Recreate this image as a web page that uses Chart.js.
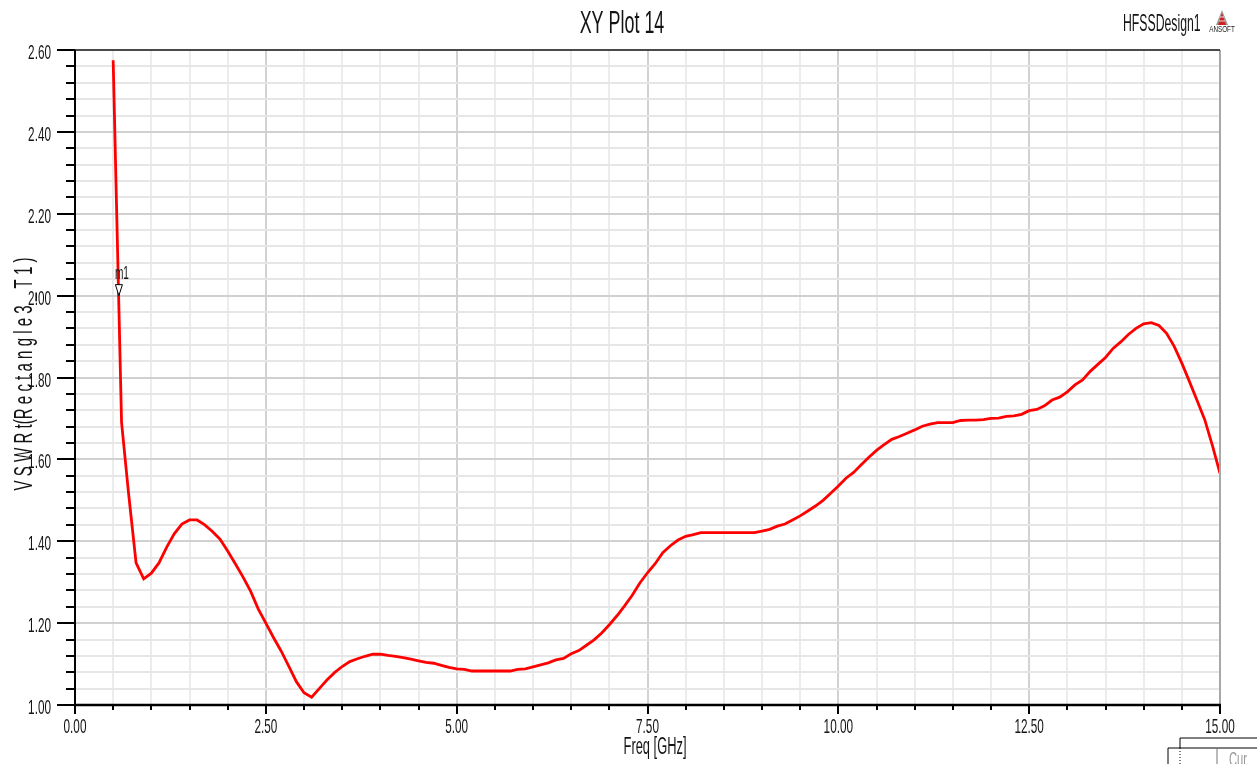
<!DOCTYPE html>
<html>
<head>
<meta charset="utf-8">
<title>XY Plot 14</title>
<script src="https://cdn.jsdelivr.net/npm/chart.js@4.4.1/dist/chart.umd.min.js"></script>
<style>
  html, body { margin: 0; padding: 0; background: #ffffff; }
  #wrap { width: 1257px; height: 764px; }
  canvas { display: block; }
</style>
</head>
<body>
<div id="wrap"><canvas id="plot" width="1257" height="764"></canvas></div>
<script>
// Frequency sweep (GHz) and VSWR of port Rectangle3_T1
const freqGHz = [
  0.5, 0.61, 0.7, 0.8, 0.9, 1.0, 1.1, 1.2, 1.3, 1.4, 1.5, 1.6, 1.7, 1.8, 1.9,
  2.0, 2.1, 2.2, 2.3, 2.4, 2.5, 2.6, 2.7, 2.8, 2.9, 3.0, 3.1, 3.2, 3.3, 3.4,
  3.5, 3.6, 3.7, 3.8, 3.9, 4.0, 4.1, 4.2, 4.3, 4.4, 4.5, 4.6, 4.7, 4.8, 4.9,
  5.0, 5.1, 5.2, 5.3, 5.4, 5.5, 5.6, 5.7, 5.8, 5.9, 6.0, 6.1, 6.2, 6.3, 6.4,
  6.5, 6.6, 6.7, 6.8, 6.9, 7.0, 7.1, 7.2, 7.3, 7.4, 7.5, 7.6, 7.7, 7.8, 7.9,
  8.0, 8.1, 8.2, 8.3, 8.4, 8.5, 8.6, 8.7, 8.8, 8.9, 9.0, 9.1, 9.2, 9.3, 9.4,
  9.5, 9.6, 9.7, 9.8, 9.9, 10.0, 10.1, 10.2, 10.3, 10.4, 10.5, 10.6, 10.7, 10.8, 10.9,
  11.0, 11.1, 11.2, 11.3, 11.4, 11.5, 11.6, 11.7, 11.8, 11.9, 12.0, 12.1, 12.2, 12.3, 12.4,
  12.5, 12.6, 12.7, 12.8, 12.9, 13.0, 13.1, 13.2, 13.3, 13.4, 13.5, 13.6, 13.7, 13.8, 13.9,
  14.0, 14.1, 14.2, 14.3, 14.4, 14.5, 14.6, 14.7, 14.8, 14.9, 15.0
];
const vswr = [
  2.575, 1.690, 1.520, 1.347, 1.308, 1.322, 1.347, 1.385, 1.418, 1.442, 1.452, 1.452, 1.440, 1.424, 1.405,
  1.376, 1.345, 1.313, 1.278, 1.235, 1.200, 1.165, 1.132, 1.095, 1.057, 1.030, 1.019, 1.040, 1.061, 1.079,
  1.094, 1.106, 1.113, 1.119, 1.124, 1.124, 1.121, 1.119, 1.116, 1.112, 1.108, 1.104, 1.102, 1.097, 1.092,
  1.088, 1.087, 1.083, 1.083, 1.083, 1.083, 1.083, 1.083, 1.087, 1.088, 1.093, 1.098, 1.103, 1.110, 1.114,
  1.125, 1.133, 1.146, 1.159, 1.176, 1.196, 1.218, 1.242, 1.268, 1.298, 1.323, 1.345, 1.372, 1.389, 1.403,
  1.412, 1.416, 1.421, 1.421, 1.421, 1.421, 1.421, 1.421, 1.421, 1.421, 1.425, 1.429, 1.437, 1.442, 1.452,
  1.462, 1.474, 1.486, 1.500, 1.517, 1.535, 1.554, 1.568, 1.587, 1.605, 1.622, 1.636, 1.649, 1.656, 1.664,
  1.672, 1.681, 1.686, 1.690, 1.690, 1.690, 1.695, 1.696, 1.696, 1.697, 1.700, 1.701, 1.705, 1.706, 1.710,
  1.719, 1.722, 1.731, 1.745, 1.752, 1.765, 1.782, 1.794, 1.815, 1.832, 1.849, 1.871, 1.887, 1.905, 1.920,
  1.931, 1.934, 1.927, 1.908, 1.876, 1.835, 1.790, 1.744, 1.697, 1.634, 1.566
];

// Axis tick labels
const xTickLabels = ['0.00', '2.50', '5.00', '7.50', '10.00', '12.50', '15.00'];
const yTickLabels = ['1.00', '1.20', '1.40', '1.60', '1.80', '2.00', '2.20', '2.40', '2.60'];

// Marker
const markerNames = ['m1'];
const markerFreq = [0.575];
const markerVswr = [2.0];

// Text strings
const plotTitle = 'XY Plot 14';
const designName = 'HFSSDesign1';
const xAxisTitle = 'Freq [GHz]';
const yAxisTitle = 'V S W R t(R e c t a n g l e 3 _ T 1 )';

const FONT = '"Liberation Sans", Arial, sans-serif';
const SX = 0.56;          // horizontal squeeze for the narrow plot lettering
const TEXT = '#141414';

function narrowText(ctx, text, x, y, size, align, baseline, color, rot, sx) {
  ctx.save();
  ctx.translate(x, y);
  if (rot) ctx.rotate(rot);
  ctx.scale(sx || SX, 1);
  ctx.font = size + 'px ' + FONT;
  ctx.textAlign = align;
  ctx.textBaseline = baseline;
  ctx.fillStyle = color;
  ctx.fillText(text, 0, 0);
  ctx.restore();
}

function line(ctx, x1, y1, x2, y2, color, w, dash) {
  ctx.save();
  ctx.beginPath();
  ctx.strokeStyle = color;
  ctx.lineWidth = w;
  if (dash) ctx.setLineDash(dash);
  ctx.moveTo(x1, y1);
  ctx.lineTo(x2, y2);
  ctx.stroke();
  ctx.restore();
}

const isMajorX = v => Math.abs(v / 2.5 - Math.round(v / 2.5)) < 1e-6;
const isMajorY = v => Math.abs(v / 0.2 - Math.round(v / 0.2)) < 1e-6;

// Axes frame, tick marks, labels, marker and header texts
const frameAndText = {
  id: 'frameAndText',
  afterDatasetsDraw(chart) {
    const ctx = chart.ctx;
    const xs = chart.scales.x, ys = chart.scales.y;
    const a = chart.chartArea;

    // right border and top border
    line(ctx, a.right, a.top, a.right, a.bottom, '#a8a8a8', 2);
    line(ctx, 58, a.top, a.right, a.top, '#4a4a4a', 2);

    // y ticks
    ys.ticks.forEach(t => {
      const py = Math.round(ys.getPixelForValue(t.value));
      const major = isMajorY(t.value);
      line(ctx, a.left - (major ? 18 : 9), py, a.left, py, '#000', 2);
    });
    // x ticks
    xs.ticks.forEach(t => {
      const px = Math.round(xs.getPixelForValue(t.value));
      const major = isMajorX(t.value);
      line(ctx, px, a.bottom, px, a.bottom + (major ? 9 : 5), '#000', 2);
    });

    // axis lines
    line(ctx, a.left, a.top, a.left, a.bottom + 1, '#000', 2);
    line(ctx, a.left, a.bottom, a.right + 1, a.bottom, '#000', 2.5);

    // tick labels
    yTickLabels.forEach(s => {
      const py = ys.getPixelForValue(parseFloat(s));
      narrowText(ctx, s, 51, py + 9, 21, 'right', 'alphabetic', TEXT);
    });
    xTickLabels.forEach(s => {
      const px = xs.getPixelForValue(parseFloat(s));
      narrowText(ctx, s, px, a.bottom + 28, 21, 'center', 'alphabetic', TEXT);
    });

    // axis titles
    narrowText(ctx, xAxisTitle, 655, 754, 23, 'center', 'alphabetic', TEXT);
    narrowText(ctx, yAxisTitle, 32, 374, 26, 'center', 'alphabetic', TEXT, -Math.PI / 2, 0.58);

    // header
    narrowText(ctx, plotTitle, 622, 33, 32, 'center', 'alphabetic', TEXT);
    narrowText(ctx, designName, 1123, 31, 24, 'left', 'alphabetic', TEXT, 0, 0.51);

    // ANSOFT badge
    ctx.save();
    ctx.beginPath();
    ctx.moveTo(1222, 10); ctx.lineTo(1228, 25); ctx.lineTo(1216, 25); ctx.closePath();
    ctx.fillStyle = '#9a9a9a';
    ctx.fill();
    ctx.beginPath();
    ctx.moveTo(1222, 13); ctx.lineTo(1226, 25); ctx.lineTo(1218, 25); ctx.closePath();
    ctx.fillStyle = '#cc2222';
    ctx.fill();
    ctx.strokeStyle = '#ffffff';
    ctx.lineWidth = 0.8;
    ctx.beginPath();
    ctx.moveTo(1219, 21); ctx.lineTo(1225, 21);
    ctx.moveTo(1220, 17); ctx.lineTo(1224, 17);
    ctx.stroke();
    ctx.restore();
    narrowText(ctx, 'ANSOFT', 1222, 32, 9, 'center', 'alphabetic', '#222', 0, 0.7);

    // markers
    markerNames.forEach((name, i) => {
      const px = xs.getPixelForValue(markerFreq[i]);
      const py = ys.getPixelForValue(markerVswr[i]);
      ctx.save();
      ctx.beginPath();
      ctx.moveTo(px - 3.5, py - 11);
      ctx.lineTo(px + 3.5, py - 11);
      ctx.lineTo(px, py);
      ctx.closePath();
      ctx.fillStyle = '#ffffff';
      ctx.fill();
      ctx.strokeStyle = '#000';
      ctx.lineWidth = 1;
      ctx.stroke();
      ctx.restore();
      narrowText(ctx, name, px - 4, py - 17, 18, 'left', 'alphabetic', TEXT);
    });

    // edge of the trace legend box, cut by the window
    line(ctx, 1180, 738, 1257, 738, '#000', 1);
    line(ctx, 1180, 738, 1180, 748, '#000', 1);
    line(ctx, 1180, 748, 1180, 764, '#000', 1, [1, 2]);
    line(ctx, 1168, 748, 1257, 748, '#000', 1);
    line(ctx, 1168, 748, 1168, 764, '#000', 1);
    line(ctx, 1217, 748, 1217, 764, '#777', 1);
    narrowText(ctx, 'Cur', 1229, 766, 20, 'left', 'alphabetic', '#9a9a9a');
  }
};

const points = freqGHz.map((f, i) => ({ x: f, y: vswr[i] }));

new Chart(document.getElementById('plot'), {
  type: 'line',
  data: {
    datasets: [{
      label: 'VSWRt(Rectangle3_T1)',
      data: points,
      borderColor: '#ff0000',
      borderWidth: 2.8,
      pointRadius: 0,
      tension: 0,
      fill: false
    }]
  },
  options: {
    responsive: false,
    devicePixelRatio: 1,
    animation: false,
    layout: { padding: { left: 75, right: 37, top: 50, bottom: 59 } },
    plugins: { legend: { display: false }, title: { display: false }, tooltip: { enabled: false } },
    scales: {
      x: {
        type: 'linear',
        min: 0,
        max: 15,
        ticks: { stepSize: 0.5, display: false, autoSkip: false },
        border: { display: false },
        grid: {
          drawTicks: false,
          lineWidth: 2,
          color: c => (c.tick && isMajorX(c.tick.value)) ? '#d2d2d2' : '#ececec'
        }
      },
      y: {
        type: 'linear',
        min: 1.0,
        max: 2.6,
        ticks: { stepSize: 0.04, display: false, autoSkip: false },
        border: { display: false },
        grid: {
          drawTicks: false,
          lineWidth: 2,
          color: c => (c.tick && isMajorY(c.tick.value)) ? '#d0d0d0' : '#e6e6e6'
        }
      }
    }
  },
  plugins: [frameAndText]
});
</script>
</body>
</html>
